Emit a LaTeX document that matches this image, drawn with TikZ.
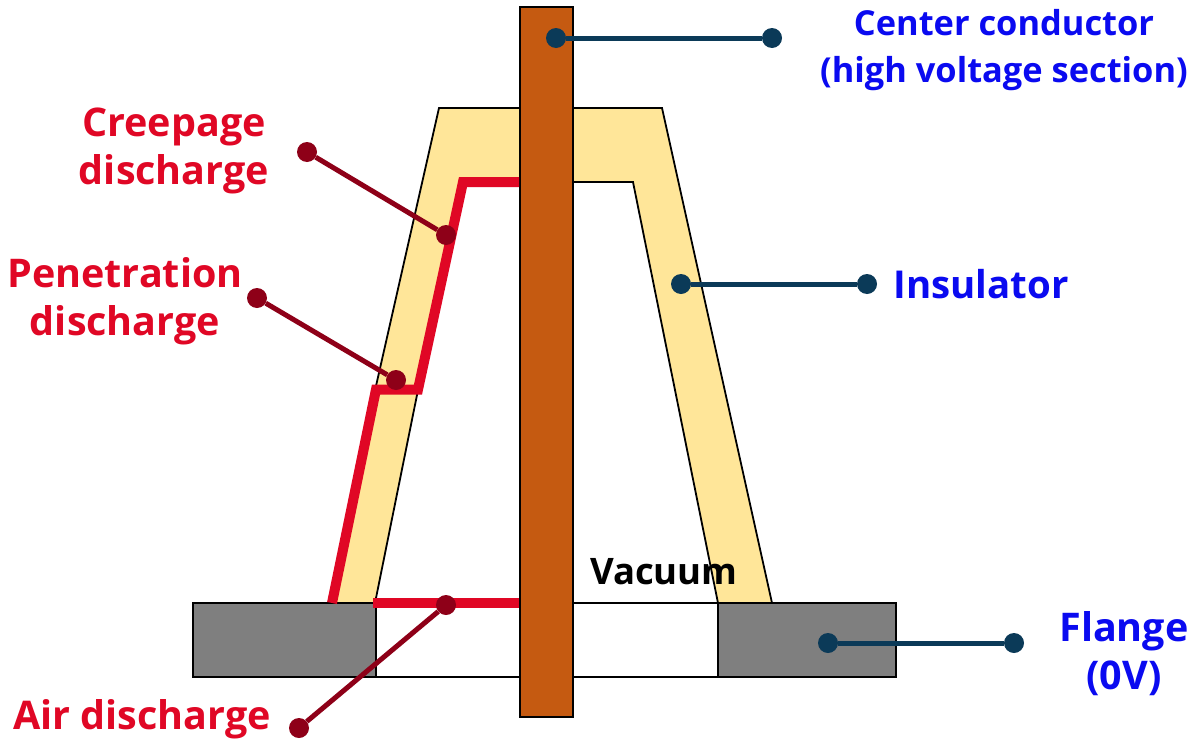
\documentclass[tikz,border=0pt]{standalone}
\usepackage{fontspec}
\setmainfont{Open Sans}
\definecolor{insul}{HTML}{FFE699}
\definecolor{cond}{HTML}{C55A11}
\definecolor{flange}{HTML}{7F7F7F}
\definecolor{dred}{HTML}{8E0018}
\definecolor{hred}{HTML}{E00725}
\definecolor{teal}{HTML}{0B3A58}
\definecolor{lblue}{HTML}{0A0AF0}
\tikzset{
  body/.style={draw=black,line width=2.4pt},
  thin edge/.style={draw=black,line width=1.8pt},
  discharge/.style={draw=hred,line width=10pt,miter limit=10},
  rdot/.style={circle,fill=dred,minimum size=20pt,inner sep=0pt},
  bdot/.style={circle,fill=teal,minimum size=20pt,inner sep=0pt},
  rlead/.style={draw=dred,line width=5pt},
  blead/.style={draw=teal,line width=5pt},
  rlabel/.style={text=hred,font=\bfseries\fontsize{39.5}{48}\selectfont,align=center,inner sep=0pt},
  blabel/.style={text=lblue,font=\bfseries\fontsize{34.4}{47}\selectfont,align=center,inner sep=0pt},
}
\begin{document}
\begin{tikzpicture}[x=1pt,y=-1pt]
\useasboundingbox[fill=white] (0,0) rectangle (1200,755);
% insulator
\fill[insul] (439,108) -- (662,108) -- (772,603) -- (718,603) -- (633,182) -- (460,182) -- (375,603) -- (332,603) -- (376,386) -- cycle;
\draw[thin edge] (376,386) -- (439,108) -- (662,108) -- (772,603);
\draw[thin edge] (375,603) -- (460,182) -- (633,182) -- (718,603);
% flange
\node[body,fill=white,minimum width=342pt,minimum height=74pt,inner sep=0pt] (gap) at (547,640) {};
\node[body,fill=flange,minimum width=183pt,minimum height=74pt,inner sep=0pt] (flangeL) at (284.5,640) {};
\node[body,fill=flange,minimum width=178pt,minimum height=74pt,inner sep=0pt] (flangeR) at (807,640) {};
% conductor
\node[body,fill=cond,minimum width=53pt,minimum height=710pt,inner sep=0pt] (conductor) at (546.5,362) {};
% discharges
\draw[discharge] (519,182) -- (463,182) -- (418,389.5) -- (376,389.5) -- (332,603);
\draw[discharge] (373,602.5) -- (519,602.5);
% vacuum
\node[text=black,font=\bfseries\fontsize{36.5}{40}\selectfont,inner sep=0pt] (vac) at (664,572) {Vacuum};
% leaders
\node[bdot] (a1) at (556,38) {};
\node[bdot] (a2) at (772,38) {};
\node[bdot] (b1) at (681,284) {};
\node[bdot] (b2) at (867,284) {};
\node[bdot] (c1) at (828,643) {};
\node[bdot] (c2) at (1014,643) {};
\draw[blead] (a1) -- (a2);
\draw[blead] (b1) -- (b2);
\draw[blead] (c1) -- (c2);
\node[rdot] (d1) at (307,152) {};
\node[rdot] (d2) at (446,235) {};
\node[rdot] (e1) at (257,298) {};
\node[rdot] (e2) at (396,380) {};
\node[rdot] (f1) at (446,605) {};
\node[rdot] (f2) at (299,728) {};
\draw[rlead] (d1) -- (d2);
\draw[rlead] (e1) -- (e2);
\draw[rlead] (f1) -- (f2);
% labels
\node[rlabel] (creep) at (174,151) {Creepage\\discharge};
\node[rlabel] (pen) at (125,301) {Penetration\\discharge};
\node[rlabel] (air) at (142,719) {Air discharge};
\node[blabel] (cc) at (1004,50) {Center conductor\\(high voltage section)};
\node[blabel,font=\bfseries\fontsize{38.4}{48}\selectfont] (ins) at (981,284) {Insulator};
\node[blabel,font=\bfseries\fontsize{39.5}{48}\selectfont] (fl) at (1124,654) {Flange\\(0V)};
\end{tikzpicture}
\end{document}
